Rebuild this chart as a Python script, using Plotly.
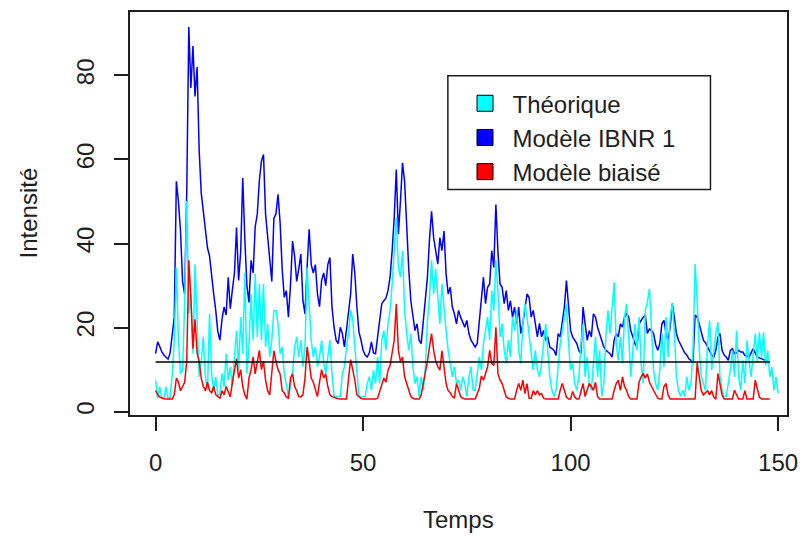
import numpy as np
import plotly.graph_objects as go

step = 0.5

# Modèle IBNR 1 (blue), t = 0 .. 148
ibnr = [
    13.8, 16.6, 15.5, 14.2, 13.5, 13, 12.5, 14, 19, 22.5,
    54.8, 50, 43, 31, 28, 52, 91.5, 77, 87, 75,
    82, 62, 52, 48, 44, 39, 37, 32, 28, 24,
    19, 17, 22, 24.9, 23, 32, 24.5, 29, 33, 43.8,
    31.2, 38, 55.6, 41, 30, 26, 36, 33, 44, 47,
    55, 59.6, 61.2, 47, 41, 36, 31, 46, 47, 51.7,
    45, 34, 27.2, 28.8, 22.5, 30, 40.6, 37, 31, 34,
    37.5, 26.4, 23.3, 34.3, 43.4, 35, 33, 35, 28, 25,
    31.2, 33, 30, 35, 36.7, 25, 20.1, 17, 16.2, 20.1,
    18.6, 15.4, 20.1, 24, 28, 37.5, 33, 25, 19, 17,
    14.6, 13.5, 13, 14, 16.6, 14, 13.8, 17.8, 22.5, 25.7,
    26.4, 27, 28.8, 32, 38.3, 46.2, 57.6, 42.2, 50, 59.2,
    54.8, 44, 34, 26.4, 22.5, 19.3, 20.9, 17, 16.2, 21,
    27.2, 32, 41, 47.7, 41.4, 38, 35.1, 41.4, 38.3, 43,
    32.8, 28, 29.6, 24.9, 23.3, 20.9, 24.1, 22.5, 21.5, 20.1,
    21.7, 18.6, 17, 16, 15.4, 16.2, 21.7, 26.4, 32, 25.7,
    29.6, 30.4, 38.3, 34.3, 49.3, 38, 30.4, 29.6, 25.7, 28.8,
    24.1, 26.4, 22.5, 24.9, 21, 24.9, 18.6, 21, 24.9, 28,
    27.2, 22.5, 24.1, 21, 17.8, 21, 17.8, 19.3, 17, 17.8,
    15.4, 15, 14.6, 13.4, 18.6, 17.8, 21, 24.9, 31.2, 24.1,
    19.3, 17.8, 17, 16.2, 14.5, 13.8, 24.9, 20.1, 17, 19.3,
    17.8, 23.3, 22.5, 20.1, 18.6, 17, 15.4, 14.6, 14.2, 13.8,
    13, 17, 18.6, 17.8, 20.9, 20.1, 22.5, 23.3, 22.5, 19.3,
    17.8, 16.2, 15.4, 20.9, 21.7, 22.5, 22.9, 18.6, 19.7, 19.3,
    18.6, 16, 14.6, 16.2, 20.9, 21.7, 18.6, 17, 20.1, 25.7,
    22.5, 18.6, 17, 16, 15.4, 14, 13.5, 12.6, 12.2, 11.9,
    23, 22.5, 20.9, 18.6, 17, 16.4, 15.4, 14.6, 13.5, 13,
    14.6, 17.8, 18.6, 14.6, 13.5, 13, 12.2, 14.6, 15, 13.8,
    14, 14.6, 14.2, 14.2, 13.4, 13.2, 13, 14, 15, 14,
    13, 12.8, 12.6, 12.4, 12.2, 12, 11.8,
]

# Théorique (cyan), t = 0 .. 150
theorique = [
    7.5, 3.2, 5.9, 3.2, 3.2, 5.9, 3.2, 3.5, 8.7, 17,
    34.3, 17, 9, 9.9, 25.7, 50.1, 23.3, 28, 13.8, 35.1,
    21.7, 8.3, 12.2, 17.8, 8.3, 5.1, 23.3, 9.1, 5.1, 8.3,
    3.6, 4.3, 9.1, 5.9, 13.8, 7.5, 10.7, 5.9, 13, 19.3,
    9.9, 22.5, 13.8, 33, 9.1, 15.4, 28, 17, 32.8, 17.8,
    30.4, 17, 30.4, 15.4, 20.9, 13, 17, 24.1, 24.1, 20.9,
    13.8, 15.4, 9.1, 5.9, 3.6, 5.9, 9.1, 15.4, 17.8, 13,
    17, 10.7, 15.4, 34.3, 24.1, 17, 13, 15.4, 10.7, 13,
    17, 11.7, 9.1, 13, 17, 9.1, 3.6, 3.6, 3.6, 3.6,
    9.1, 10.7, 15.4, 18.5, 24.1, 22, 15.4, 9.1, 3.6, 3.6,
    3.6, 3.6, 6.7, 8.3, 5.1, 9.9, 6.7, 13, 6.7, 17,
    19.3, 14.6, 20.9, 24.1, 30.4, 38.3, 46.2, 34.3, 32, 38.3,
    24.1, 18.6, 14.6, 18.6, 10.7, 6.7, 8.3, 3.6, 8.3, 5.1,
    10.7, 21.7, 27.2, 36, 28, 34, 27.2, 20.9, 30.4, 24.1,
    19.3, 14.6, 11.5, 8.3, 10.7, 6.7, 7.5, 5.1, 8.3, 6.7,
    3.6, 8.3, 10.7, 5.1, 5.1, 9.9, 13, 9.9, 16.2, 19.3,
    22.5, 17, 28.8, 24, 36, 28.8, 17.8, 20.9, 14.6, 11.5,
    17, 13, 22.5, 19.3, 24.1, 14.6, 11.5, 20.9, 25.7, 22.5,
    17.8, 13, 9.9, 14.6, 9.9, 8.3, 11.5, 16.2, 20.9, 14.6,
    8.3, 5.1, 3.6, 5.1, 11.5, 16.2, 19.3, 22.5, 25.7, 16.2,
    9.9, 11.5, 6.7, 5.1, 8.3, 16.2, 20.9, 8.3, 13, 6.7,
    5.1, 11.5, 17.8, 8.3, 14.6, 3.6, 6.7, 17.8, 24.1, 18.6,
    25.7, 30.8, 16.2, 12.2, 17.8, 11.5, 22.5, 25.7, 17.8, 8.3,
    14.6, 20.9, 14.6, 22.5, 11.5, 6.7, 24.1, 26, 29.2, 20,
    9.9, 6.7, 5.1, 9.9, 18.6, 10.7, 22.5, 13, 22.5, 25.7,
    19.3, 8.3, 5.1, 3.6, 5.1, 3.6, 8.3, 5.1, 6.7, 14.6,
    35.1, 26.4, 14.6, 8.3, 6.7, 5.1, 16.2, 21.7, 9.9, 14.6,
    18.6, 21.3, 8.3, 5.1, 3.6, 3.6, 6.7, 9.9, 14.6, 8.3,
    19.3, 8.3, 5.1, 12.2, 6.7, 17, 12.2, 8.3, 13.8, 18.6,
    12, 18.9, 13, 18.9, 11, 14.6, 8.3, 10.6, 5.1, 8.3,
    4.3,
]

# Modèle biaisé (red), t = 0 .. 148
biaise = [
    5, 4, 3.5, 3.2, 3.1, 3, 3, 3, 3, 4,
    8, 7, 5, 6, 7, 12, 36, 27, 15, 22,
    14, 12, 8, 6, 5, 7, 5, 4.5, 6, 4,
    3.5, 3.2, 5, 4, 6, 4.5, 3.5, 7, 10, 12.6,
    8, 10, 6, 4, 3, 8, 10, 13, 9, 12,
    14.6, 10, 12, 7.5, 5, 4, 10, 14.5, 12, 10,
    9, 5, 4.5, 3.5, 3.2, 8, 9, 6, 5, 3.6,
    3.5, 4, 8, 15.4, 12, 8, 7, 5, 3.6, 7,
    10, 8, 9, 6, 4, 3.6, 3.4, 3.2, 3.1, 3,
    3, 3, 3, 8, 12.4, 10, 7.5, 4, 3.5, 3.2,
    3, 3, 3, 3, 3, 3, 3, 3.2, 5, 6.7,
    8, 7, 9.9, 11, 14, 17, 25.7, 14.6, 12, 13,
    8.3, 6.7, 5, 3.6, 3.2, 3, 3, 3, 4, 6.7,
    9, 12, 15.4, 18.6, 14.6, 12, 10.7, 9.9, 14.5, 10.7,
    6.7, 5, 4.5, 3.6, 3.2, 6.7, 5, 3.6, 3.2, 3,
    3, 3, 3, 3, 3, 4.3, 5.5, 8.5, 7.5, 9.1,
    10.7, 14.6, 11.5, 11, 20.1, 9, 7.5, 6.7, 5.1, 3.5,
    3.2, 3, 3, 3, 5.1, 6.7, 5.1, 7.5, 4.3, 6.7,
    3.2, 3.2, 5, 4, 5, 4, 4.3, 3.2, 3, 3,
    3, 3, 3, 3, 3, 5.1, 6.7, 5.1, 3.5, 3,
    3, 4.8, 3.5, 3, 3, 4.8, 6.7, 3.6, 5, 6.7,
    6, 5.1, 7, 3.6, 3, 3, 3, 3, 3, 3,
    3, 5.1, 6.7, 7.5, 5.1, 8.3, 6, 5.1, 3.6, 3,
    3, 3, 3, 7, 8.3, 9.1, 8, 9, 7, 6,
    5, 4, 3.2, 3, 3, 6, 6.7, 4, 3, 3,
    3, 3, 3, 3, 3, 3, 3, 3, 3, 3,
    3, 11.6, 8, 5, 4, 4.5, 5, 4, 5, 3.5,
    3, 9.1, 6.7, 4, 3, 3, 3, 3, 3, 5.1,
    4, 3, 3, 3, 5, 3, 3, 3, 3, 7.5,
    5.1, 3.5, 3, 3, 3, 3, 3,
]

# baseline intensity (black segment)
mu_t = [0, 148]
mu_v = [11.8, 11.8]

x_ticks = [0, 50, 100, 150]
y_ticks = [0, 20, 40, 60, 80]
legend_names = ["Théorique", "Modèle IBNR 1", "Modèle biaisé"]
colors = ["#00FFFF", "#0000FF", "#FF0000"]

t_ibnr = np.arange(len(ibnr)) * step
t_theo = np.arange(len(theorique)) * step
t_bias = np.arange(len(biaise)) * step

FONT = "Liberation Sans, Arial, sans-serif"
FS = 24
INK = "#1e1e1e"

fig = go.Figure()
fig.add_trace(go.Scatter(x=t_ibnr, y=ibnr, mode="lines", line=dict(color=colors[1], width=1.5),
                         showlegend=False, hoverinfo="skip"))
fig.add_trace(go.Scatter(x=t_theo, y=theorique, mode="lines", line=dict(color=colors[0], width=1.5),
                         showlegend=False, hoverinfo="skip"))
fig.add_trace(go.Scatter(x=t_bias, y=biaise, mode="lines", line=dict(color=colors[2], width=1.5),
                         showlegend=False, hoverinfo="skip"))
fig.add_trace(go.Scatter(x=mu_t, y=mu_v, mode="lines", line=dict(color="black", width=1.5),
                         showlegend=False, hoverinfo="skip"))

# legend entries (filled boxes like the original)
for name, col in zip(legend_names, colors):
    fig.add_trace(go.Scatter(x=[None], y=[None], mode="markers", name=name,
                             marker=dict(symbol="square", size=16, color=col,
                                         line=dict(color="black", width=1))))

axis_common = dict(showgrid=False, zeroline=False, showline=True, mirror=True,
                   linecolor=INK, linewidth=1.5, ticks="outside", ticklen=14,
                   tickwidth=1.5, tickcolor=INK,
                   tickfont=dict(family=FONT, size=FS, color=INK))

fig.update_layout(
    width=808, height=539,
    margin=dict(l=130, r=11, t=10, b=124),
    paper_bgcolor="white", plot_bgcolor="white",
    font=dict(family=FONT, size=FS, color=INK),
    xaxis=dict(range=[-6.17, 152.15], tickvals=x_ticks, ticklabelstandoff=11, **axis_common),
    yaxis=dict(range=[-0.78, 95.08], tickvals=y_ticks, tickangle=-90, ticklabelstandoff=11,
               **axis_common),
    legend=dict(x=(462.5 - 130) / 667, y=(415 - 79.5) / 405, xanchor="left", yanchor="top",
                borderwidth=0, bgcolor="rgba(0,0,0,0)",
                font=dict(family=FONT, size=FS, color=INK),
                itemwidth=45, tracegroupgap=0),
    shapes=[
        dict(type="rect", xref="paper", yref="paper",
             x0=(452.7 - 130) / 667, x1=(719.3 - 130) / 667,
             y0=(415 - 188.3) / 405, y1=(415 - 74) / 405,
             line=dict(color=INK, width=1.5), fillcolor="white", layer="below"),
    ],
    annotations=[
        dict(text="Temps", xref="paper", yref="paper", x=0.5, y=0, xanchor="center",
             yanchor="middle", yshift=-104, showarrow=False,
             font=dict(family=FONT, size=FS, color=INK)),
        dict(text="Intensité", xref="paper", yref="paper", x=0, y=0.5, xanchor="center",
             yanchor="middle", xshift=-102, textangle=-90, showarrow=False,
             font=dict(family=FONT, size=FS, color=INK)),
    ],
)

fig.write_html("out.html")
